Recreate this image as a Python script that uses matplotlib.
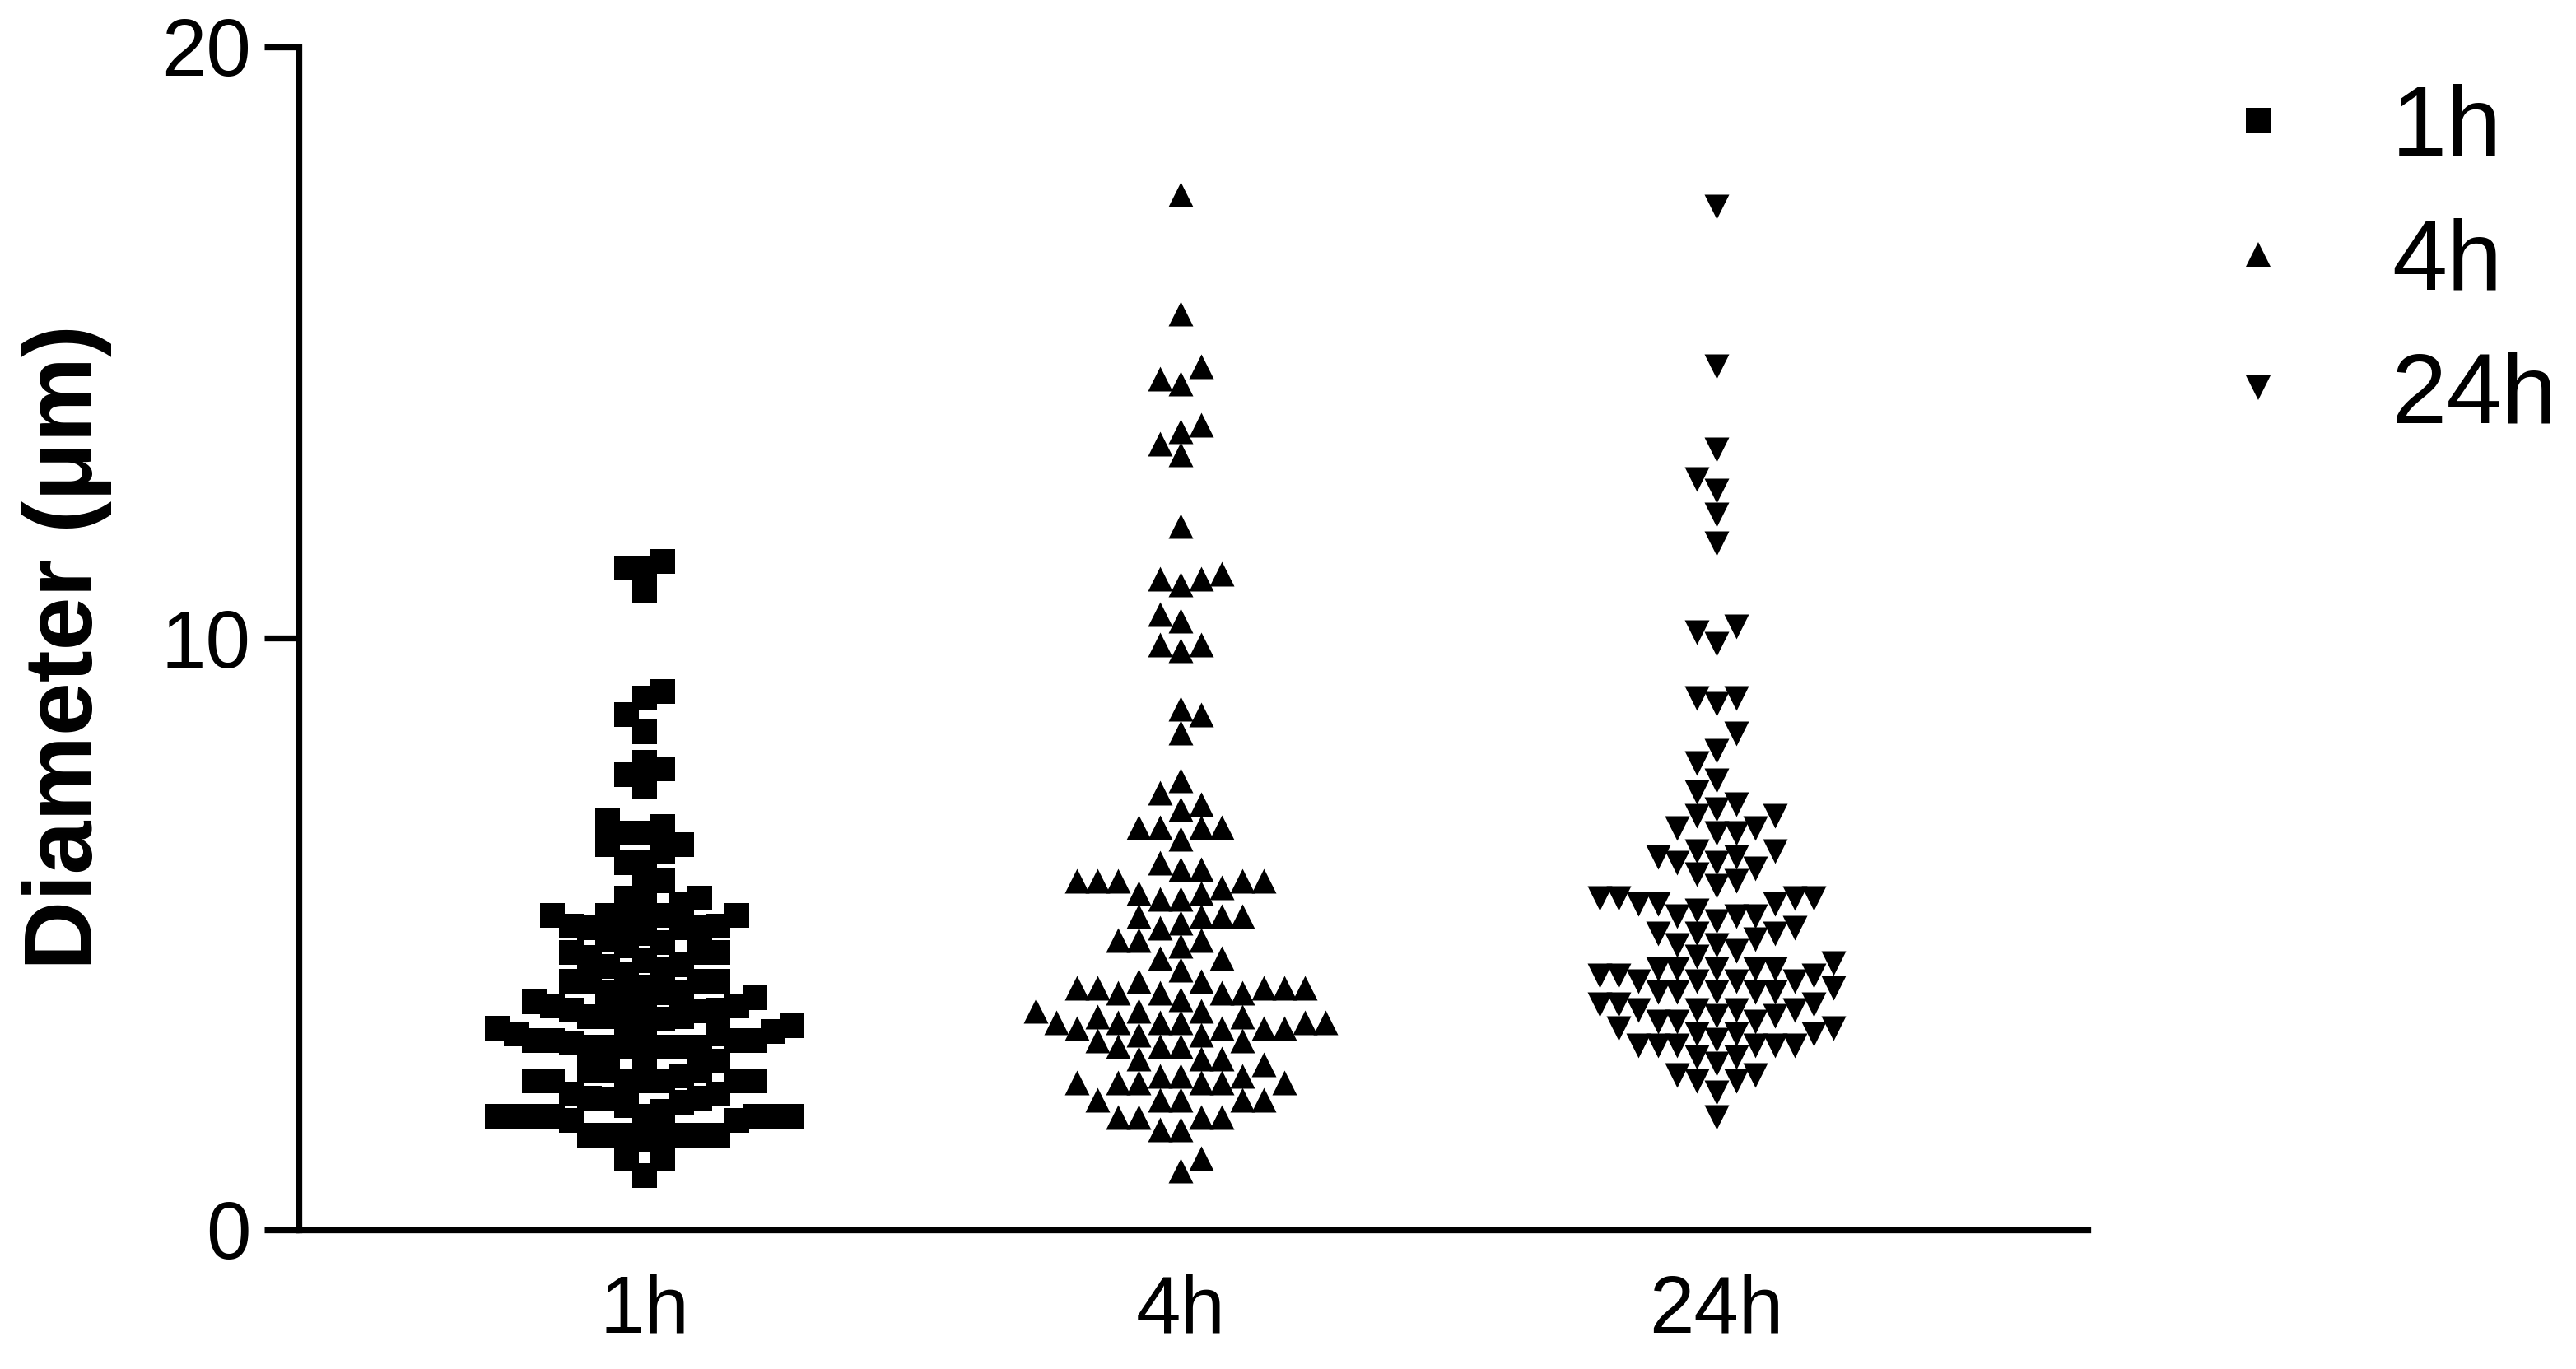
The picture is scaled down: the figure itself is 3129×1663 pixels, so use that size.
import numpy as np
import matplotlib.pyplot as plt
from matplotlib.lines import Line2D

plt.rcParams['font.family'] = ['Liberation Sans', 'DejaVu Sans']

# groups on the x axis
groups = ['1h', '4h', '24h']
markers = ['s', '^', 'v']

# Diameter (um)
d_1h = [11.30, 11.19, 11.19, 10.79,
        9.10, 8.99, 8.70, 8.41,
        7.90, 7.79, 7.69, 7.50,
        6.81, 6.91, 6.70, 6.70, 6.51, 6.51, 6.20, 6.40, 5.80, 6.20, 5.90, 5.60, 5.51, 5.60,
        5.31, 5.31, 5.31, 5.31, 5.10, 5.10, 5.13, 5.10, 5.13, 4.91, 5.20, 5.40, 5.00,
        4.80, 4.60, 4.69, 4.69, 4.48, 4.19, 4.69, 4.31, 4.00, 3.92, 4.00, 4.19, 4.00, 4.20,
        4.20, 4.40, 4.85, 4.55, 4.45, 4.10,
        3.70, 3.30, 3.31, 2.91, 3.60, 3.60, 3.71, 3.60, 3.71, 3.78, 3.78, 3.89, 3.70, 3.49,
        3.40, 3.85, 3.55, 3.45, 3.35,
        3.20, 3.20, 3.20, 3.09, 3.20, 3.31, 3.09, 3.09, 3.09, 3.09, 3.09, 3.15,
        2.51, 2.51, 2.69, 2.15, 2.29, 2.51, 2.51, 2.69, 2.69, 2.51, 2.51, 2.51, 2.09, 2.29,
        2.22, 2.22, 2.20, 2.00, 2.85, 2.60,
        1.91, 1.91, 1.91, 1.91, 1.85, 1.91, 1.91, 1.91, 1.91, 1.85,
        1.60, 1.60, 1.60, 1.60, 1.60, 1.60, 1.60, 1.51,
        1.20, 1.20, 0.91]

d_4h = [17.50, 15.49, 14.59, 14.39, 14.30, 13.60, 13.50, 13.29, 13.10, 11.90,
        11.09, 11.00, 10.90, 11.00, 10.40, 10.30, 9.79, 9.89, 9.89, 8.80, 8.70, 8.40,
        7.60, 7.39, 7.19, 7.10, 6.80, 6.80, 6.80, 6.80, 6.60, 6.20, 6.09, 6.09,
        5.90, 5.90, 5.90, 5.90, 5.90, 5.79, 5.69, 5.69, 5.59, 5.59,
        5.30, 5.30, 5.30, 5.30, 5.19, 5.10, 4.89, 4.89, 4.89, 4.79, 4.59, 4.59, 4.39,
        4.20, 4.20, 4.00, 4.00, 4.00, 4.00, 4.08, 4.08, 4.08, 4.08, 4.08, 3.89,
        3.70, 3.70, 3.70, 3.60, 3.60, 3.50, 3.50, 3.50, 3.50, 3.50, 3.50,
        3.40, 3.40, 3.40, 3.40, 3.29, 3.29, 3.19, 3.19, 3.10, 3.10, 3.10,
        2.89, 2.89, 2.89, 2.79, 2.60, 2.60, 2.60,
        2.49, 2.49, 2.49, 2.49, 2.49, 2.49, 2.19, 2.19, 2.19, 2.19, 2.19,
        1.90, 1.90, 1.90, 1.90, 1.69, 1.69, 1.20, 1.00]

d_24h = [17.29, 14.59, 13.19, 12.69, 12.50, 12.09, 11.60, 10.20, 10.10, 9.90,
         8.99, 8.99, 8.89, 8.39,
         8.10, 7.89, 7.60, 7.40, 7.19, 7.10, 7.00, 7.00, 6.79, 6.79, 6.70, 6.70,
         6.40, 6.40, 6.30, 6.30, 6.20, 6.20, 6.10, 6.00, 5.90, 5.81,
         5.60, 5.60, 5.60, 5.60, 5.50, 5.50, 5.50, 5.30, 5.30, 5.30, 5.40, 5.21, 5.10,
         5.01, 5.01, 5.01, 4.90, 4.81, 4.81, 4.71, 4.61, 4.50,
         4.30, 4.30, 4.30, 4.40, 4.40, 4.40, 4.40, 4.40, 4.20, 4.20, 4.20, 4.20,
         4.01, 4.01, 4.01, 4.01, 4.01, 4.08, 3.81, 3.81, 3.81, 3.71, 3.71, 3.71, 3.71,
         3.51, 3.51, 3.51, 3.61, 3.61, 3.41, 3.41, 3.31, 3.31, 3.31,
         3.11, 3.11, 3.11, 3.11, 3.11, 3.11, 3.21, 2.91, 2.91, 2.81,
         2.51, 2.51, 2.61, 2.61, 2.32, 1.90]

data = [d_1h, d_4h, d_24h]
steps = [0.0343, 0.0387, 0.0364]  # horizontal spacing of the dot columns


def swarm(vals, gap):
    # put each point in the column nearest the centre where it
    # does not sit on top of a point already there
    vals = np.asarray(vals, float)
    last = {}
    offs = np.zeros(len(vals))
    nl = nr = 0
    for i in np.argsort(vals, kind='stable'):
        v = vals[i]
        j = 0
        while True:
            if j == 0:
                cands = [0]
            elif nr <= nl:
                cands = [j, -j]
            else:
                cands = [-j, j]
            ok = [k for k in cands if k not in last or v - last[k] >= gap]
            if ok:
                k = ok[0]
                last[k] = v
                offs[i] = k
                if k > 0:
                    nr += 1
                elif k < 0:
                    nl += 1
                break
            j += 1
    return offs


W, H = 3129, 1663
fig = plt.figure(figsize=(W / 300, H / 300), dpi=300)
ax = fig.add_axes([363 / W, 169.5 / H, (2536 - 363) / W, (1493.5 - 56.7) / H])

for i, vals in enumerate(data):
    x = i + swarm(vals, 0.39) * steps[i]
    ms = 7.0 if markers[i] == 's' else 7.2
    ax.scatter(x, vals, marker=markers[i], s=ms ** 2, color='black',
               linewidths=0, clip_on=False, zorder=3)

ax.set_xlim(-0.645, 2.693)
ax.set_ylim(0, 20)
ax.set_yticks([0, 10, 20])
ax.set_xticks(range(len(groups)))
ax.set_xticklabels(groups)

for s in ['top', 'right']:
    ax.spines[s].set_visible(False)
for s in ['left', 'bottom']:
    ax.spines[s].set_linewidth(1.75)
ax.tick_params(axis='y', length=10, width=1.75, pad=4, labelsize=23.5)
ax.tick_params(axis='x', length=0, pad=13, labelsize=23.5)

fig.text(82 / W, 1 - 786 / H, 'Diameter (μm)', rotation=90, ha='center',
         va='center', fontsize=28, fontweight='bold')

handles = [Line2D([], [], marker=m, linestyle='none', color='black',
                  markersize=7.2, markeredgewidth=0) for m in markers]
ax.legend(handles, groups, loc='center left',
          bbox_to_anchor=(2682.6 / W, 1 - 320 / H), bbox_transform=fig.transFigure,
          frameon=False, fontsize=29, handlelength=1.0, handletextpad=0.84,
          labelspacing=0.42, borderpad=0, borderaxespad=0)

fig.savefig('out.png', dpi=300)
